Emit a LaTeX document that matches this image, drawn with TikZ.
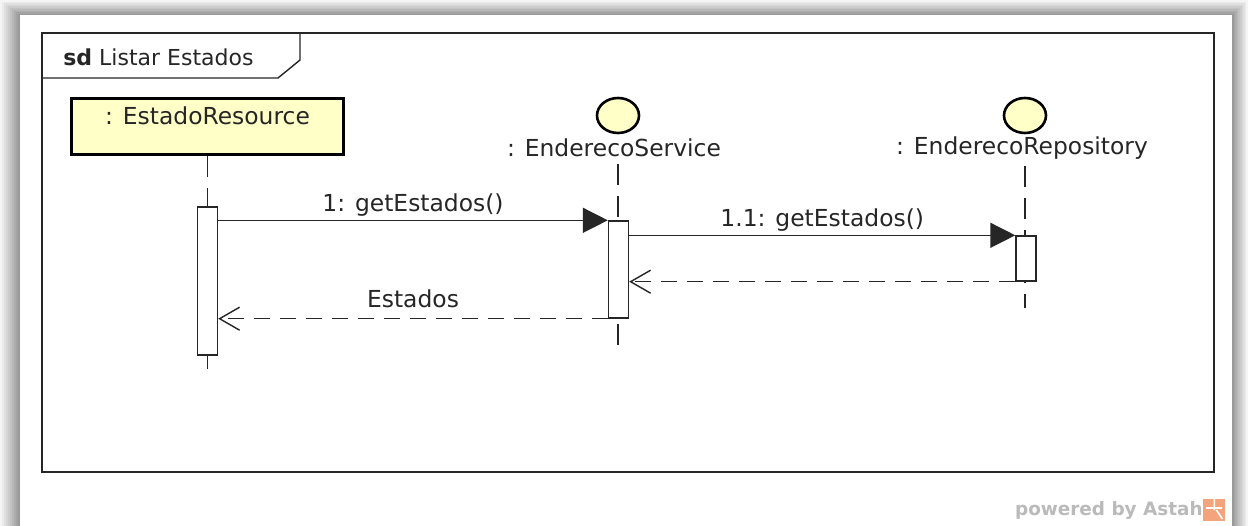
\documentclass[tikz,border=0pt]{standalone}
\usepackage{fontspec}
\setmainfont{DejaVu Sans}
\usepackage{tikz}
\usetikzlibrary{arrows.meta, shapes.geometric}
\definecolor{lifefill}{HTML}{FFFFC8}
\definecolor{umlline}{HTML}{262626}
\definecolor{astahorange}{HTML}{F4A47C}

\begin{document}
\begin{tikzpicture}[x=0.5pt,y=-0.5pt,
		every node/.style={font=\fontsize{11.7}{13}\selectfont, text=umlline},
		objbox/.style={draw=black, line width=1.5pt, fill=lifefill, minimum width=136pt, minimum height=28pt, inner sep=0pt},
		headball/.style={ellipse, draw=black, line width=1.3pt, fill=lifefill, minimum width=21pt, minimum height=17.5pt, inner sep=0pt},
		actbar/.style={draw=umlline, fill=white, line width=0.7pt, minimum width=10pt, inner sep=0pt},
		lifeline/.style={draw=umlline, line width=0.7pt, dash pattern=on 10.5pt off 5.5pt},
		callmsg/.style={draw=umlline, line width=0.7pt, -{Triangle[length=12.5pt,width=12.5pt]}},
		replymsg/.style={draw=umlline, line width=0.7pt, dash pattern=on 8pt off 5pt, -{Straight Barb[length=10pt,width=11.5pt]}}]
			\useasboundingbox (0,0) rectangle (1248,525);
			\foreach \k [evaluate=\k as \c using 4+4*\k] in {0,...,9}
				\fill[black!\c] ({2*\k},{1.5*\k}) rectangle ({1248-1.6*\k},560);
			\fill[white] (20,15) rectangle (1232,560);
			\draw[umlline, line width=0.7pt] (42,33) rectangle (1214,472);
			\draw[umlline, line width=0.7pt] (42,78) -- (278,78) -- (300,60) -- (300,33);
			\node[anchor=west, inner sep=0pt, font=\fontsize{11}{13}\selectfont] (sdname) at (63,57) {\textbf{sd} Listar Estados};
			\node[objbox] (res) at (207.5,126) {};
			\node[below, inner sep=5pt] (resname) at (res.north) {: EstadoResource};
			\node[headball] (svc) at (618,115.5) {};
			\node (svcname) at (614,148) {: EnderecoService};
			\node[headball] (repo) at (1025,115.5) {};
			\node (reponame) at (1022,148) {: EnderecoRepository};
			\coordinate (resend) at (207.5,373);
			\coordinate (svcend) at (618,346);
			\coordinate (repoend) at (1025,308);
			\draw[lifeline] (res.south) -- (resend);
			\draw[lifeline] (svc.center |- svcname.south) -- (svcend);
			\draw[lifeline] (repo.center |- reponame.south) -- (repoend);
			\node[actbar, minimum height=74pt] (actRes) at (207.5,281) {};
			\node[actbar, minimum height=48.5pt] (actSvc) at (618.5,269.5) {};
			\node[actbar, minimum height=22.5pt] (actRepo) at (1026,258.5) {};
			\draw[callmsg] (actRes.east |- actSvc.north) -- node[above, inner sep=1.5pt] (m1) {1: getEstados()} (actSvc.north west);
			\draw[callmsg] (actSvc.east |- actRepo.north) -- node[above, inner sep=1.5pt] (m11) {1.1: getEstados()} (actRepo.north west);
			\draw[replymsg] (actRepo.south west) -- (actSvc.east |- actRepo.south);
			\draw[replymsg] (actSvc.south west) -- node[above, inner sep=5pt] (m2) {Estados} (actRes.east |- actSvc.south);
			\node[anchor=east, inner sep=0pt, text=black!27, font=\bfseries\fontsize{9.2}{10}\selectfont] (powered) at (1203,510) {powered by Astah};
			\node[fill=astahorange, minimum size=11pt, inner sep=0pt, anchor=west] (astahlogo) at (powered.east) {};
			\draw[white, line width=0.8pt] (astahlogo.north) -- (astahlogo.center) (astahlogo.west) ++(3,-2) -- ++(16,0) (astahlogo.center) ++(2,0) -- ++(6,9);
\end{tikzpicture}
\end{document}
